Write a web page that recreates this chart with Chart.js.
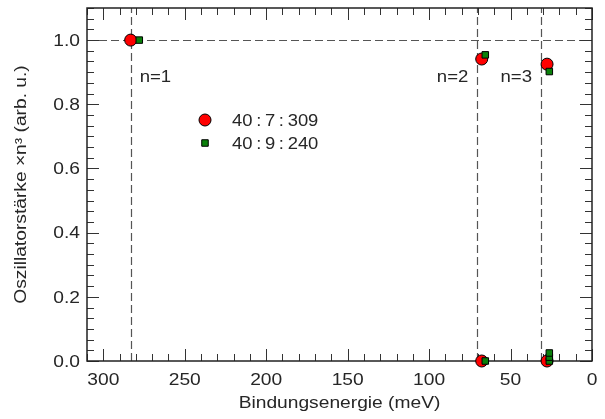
<!DOCTYPE html>
<html>
<head>
<meta charset="utf-8">
<script src="https://cdn.jsdelivr.net/npm/chart.js@4.4.0/dist/chart.umd.min.js"></script>
<style>
  html, body { margin: 0; padding: 0; background: #fff; }
  #wrap { width: 605px; height: 419px; }
</style>
</head>
<body>
<div id="wrap"><canvas id="chart"></canvas></div>
<script>
// values
const energy309 = [283.2, 67.7, 27.6, 67.7, 27.6];
const osc309 = [1.0, 0.941, 0.925, 0, 0];
const energy240 = [277.9, 65.5, 26.2, 65.5, 26.2, 26.2, 26.2];
const osc240 = [1.0, 0.954, 0.902, 0, 0, 0.012, 0.025];
const seriesNames = ["40\u2009:\u20097\u2009:\u2009309", "40\u2009:\u20099\u2009:\u2009240"];
const lineEnergies = [283.2, 70.4, 31.3];
const lineLabels = ["n=1", "n=2", "n=3"];
const refLevel = 1.0;
const xTicks = [300, 250, 200, 150, 100, 50, 0];
const yTicks = [0, 0.2, 0.4, 0.6, 0.8, 1.0];
const xTitle = "Bindungsenergie (meV)";
const yTitle = "Oszillatorstärke \u00D7n\u00B3 (arb. u.)";

const FONT = "16px 'Liberation Sans', Arial, sans-serif";
const TXT = "#262626";
const WIDE = 1.2; // the original lettering is a wide Helvetica

// text drawn with a horizontal stretch, optionally rotated
function wideText(ctx, t, x, y, align, sx, rot) {
  ctx.save();
  ctx.translate(x, y);
  if (rot) ctx.rotate(rot);
  ctx.scale(sx, 1);
  ctx.font = FONT;
  ctx.fillStyle = TXT;
  ctx.textAlign = align;
  ctx.textBaseline = "alphabetic";
  ctx.fillText(t, 0, 0);
  ctx.restore();
}

function toPoints(xs, ys) {
  return xs.map((x, i) => ({ x: x, y: ys[i] }));
}

// frame, inward ticks, dashed guides, labels, legend
const decor = {
  id: "decor",
  beforeDatasetsDraw(chart) {
    const ctx = chart.ctx;
    const a = chart.chartArea;
    const xs = chart.scales.x, ys = chart.scales.y;
    ctx.save();
    ctx.strokeStyle = "#555";
    ctx.lineWidth = 1.2;
    ctx.setLineDash([8, 4]);
    lineEnergies.forEach(e => {
      const px = Math.round(xs.getPixelForValue(e)) + 0.5;
      ctx.beginPath();
      ctx.moveTo(px, a.bottom);
      ctx.lineTo(px, a.top);
      ctx.stroke();
    });
    const py = Math.round(ys.getPixelForValue(refLevel)) + 0.5;
    ctx.beginPath();
    ctx.moveTo(a.left, py);
    ctx.lineTo(a.right, py);
    ctx.stroke();
    ctx.setLineDash([]);

    // ticks
    ctx.strokeStyle = "#333";
    ctx.lineWidth = 1;
    for (let v = 0; v <= 310; v += 10) {
      const px = Math.round(xs.getPixelForValue(v)) + 0.5;
      const len = v % 50 === 0 ? 12 : 7;
      ctx.beginPath();
      ctx.moveTo(px, a.bottom); ctx.lineTo(px, a.bottom - len);
      ctx.moveTo(px, a.top); ctx.lineTo(px, a.top + len);
      ctx.stroke();
    }
    for (let i = 0; i <= 33; i++) {
      const p = Math.round(ys.getPixelForValue(i / 30)) + 0.5;
      const len = i % 6 === 0 ? 12 : 7;
      ctx.beginPath();
      ctx.moveTo(a.left, p); ctx.lineTo(a.left + len, p);
      ctx.moveTo(a.right, p); ctx.lineTo(a.right - len, p);
      ctx.stroke();
    }

    // frame
    ctx.lineWidth = 1.5;
    ctx.strokeStyle = "#222";
    ctx.strokeRect(a.left, a.top, a.right - a.left, a.bottom - a.top);

    // tick labels and axis titles
    xTicks.forEach(v => wideText(ctx, String(v), xs.getPixelForValue(v), a.bottom + 23.5, "center", WIDE));
    yTicks.forEach(v => wideText(ctx, v.toFixed(1), a.left - 7, ys.getPixelForValue(v) + 5.7, "right", WIDE));
    wideText(ctx, xTitle, (a.left + a.right) / 2, a.bottom + 47.3, "center", WIDE);
    wideText(ctx, yTitle, 26, (a.top + a.bottom) / 2, "center", WIDE, -Math.PI / 2);

    // n labels
    const sides = ["left", "right", "right"];
    lineLabels.forEach((t, i) => {
      const px = xs.getPixelForValue(lineEnergies[i]);
      wideText(ctx, t, sides[i] === "left" ? px + 9 : px - 9, 81.7, sides[i], 1.16);
    });
    ctx.restore();
  },
  afterDatasetsDraw(chart) {
    const ctx = chart.ctx;
    ctx.save();
    chart.data.datasets.forEach((ds, i) => {
      const y = 120 + i * 23;
      ctx.fillStyle = ds.backgroundColor;
      ctx.strokeStyle = ds.borderColor;
      ctx.lineWidth = ds.borderWidth;
      ctx.beginPath();
      if (ds.pointStyle === "circle") {
        ctx.arc(205, y, ds.pointRadius, 0, Math.PI * 2);
      } else {
        const s = ds.pointRadius * Math.SQRT1_2;
        ctx.rect(205 - s, y - s, 2 * s, 2 * s);
      }
      ctx.fill();
      ctx.stroke();
      wideText(ctx, ds.label, 232, y + 5.7, "left", 1.15);
    });
    ctx.restore();
  }
};

new Chart(document.getElementById("chart"), {
  type: "scatter",
  data: {
    datasets: [
      {
        label: seriesNames[0],
        data: toPoints(energy309, osc309),
        pointStyle: "circle",
        pointRadius: 6,
        backgroundColor: "#ff0000",
        borderColor: "#000",
        borderWidth: 1,
        clip: false,
        order: 1
      },
      {
        label: seriesNames[1],
        data: toPoints(energy240, osc240),
        pointStyle: "rect",
        pointRadius: 4.6,
        backgroundColor: "#0a800a",
        borderColor: "#000",
        borderWidth: 1,
        clip: false,
        order: 0
      }
    ]
  },
  options: {
    responsive: true,
    maintainAspectRatio: false,
    animation: false,
    events: [],
    layout: { padding: { top: 8, right: 13, left: 0, bottom: 0 } },
    plugins: { legend: { display: false }, tooltip: { enabled: false } },
    scales: {
      x: {
        type: "linear",
        reverse: true,
        min: 0,
        max: 310,
        afterBuildTicks: s => { s.ticks = xTicks.map(v => ({ value: v })); },
        afterFit: s => { s.height = 58; s.paddingLeft = 0; s.paddingRight = 0; },
        grid: { display: false, drawTicks: false },
        border: { display: false },
        ticks: { display: false }
      },
      y: {
        min: 0,
        max: 1.1,
        afterBuildTicks: s => { s.ticks = yTicks.map(v => ({ value: v })); },
        afterFit: s => { s.width = 87; s.paddingTop = 0; s.paddingBottom = 0; },
        grid: { display: false, drawTicks: false },
        border: { display: false },
        ticks: { display: false }
      }
    }
  },
  plugins: [decor]
});
</script>
</body>
</html>
